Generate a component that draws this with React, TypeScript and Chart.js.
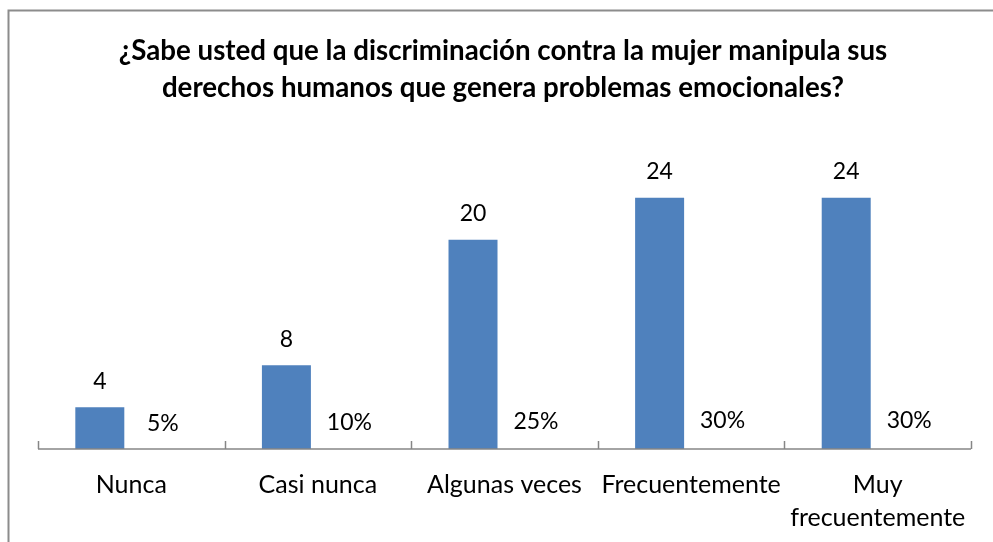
import React, { useEffect, useRef } from "react";
import { Chart, registerables } from "chart.js";

Chart.register(...registerables);

const categories: (string | string[])[] = ["Nunca", "Casi nunca", "Algunas veces", "Frecuentemente", ["Muy", "frecuentemente"]];
const counts = [4, 8, 20, 24, 24];
const percents = [0.05, 0.1, 0.25, 0.3, 0.3];
const percentLabels = ["5%", "10%", "25%", "30%", "30%"];
const titleLines = [
  "¿Sabe usted que la discriminación contra la mujer manipula sus",
  "derechos humanos que genera problemas emocionales?",
];

const FONT = "Lato, 'Open Sans', sans-serif";

const framePlugin = {
  id: "frame",
  beforeDraw(chart: any) {
    const ctx = chart.ctx;
    ctx.save();
    ctx.fillStyle = "#ffffff";
    ctx.fillRect(0, 0, chart.width, chart.height);
    ctx.strokeStyle = "#8c8c8c";
    ctx.lineWidth = 2;
    ctx.strokeRect(8.5, 10.5, chart.width + 20, chart.height + 20);
    ctx.restore();
  },
  afterDraw(chart: any) {
    const ctx = chart.ctx;
    const area = chart.chartArea;
    const xs = chart.scales.x;
    ctx.save();
    // axis line
    ctx.strokeStyle = "#868686";
    ctx.lineWidth = 1.5;
    ctx.beginPath();
    ctx.moveTo(area.left, area.bottom);
    ctx.lineTo(area.right, area.bottom);
    ctx.stroke();
    // tick marks at category boundaries
    const n = xs.ticks.length;
    const w = (area.right - area.left) / n;
    for (let i = 0; i <= n; i++) {
      const x = Math.round(area.left + i * w) + 0.5;
      ctx.beginPath();
      ctx.moveTo(x, area.bottom);
      ctx.lineTo(x, area.bottom - 8);
      ctx.stroke();
    }
    // title
    ctx.fillStyle = "#000000";
    ctx.font = `bold 27.7px ${FONT}`;
    ctx.textAlign = "center";
    ctx.textBaseline = "middle";
    ctx.fillText(titleLines[0], 503, 51);
    ctx.fillText(titleLines[1], 503, 88);
    // data labels
    ctx.font = `23px ${FONT}`;
    chart.getDatasetMeta(0).data.forEach((bar: any, i: number) => {
      ctx.fillText(String(counts[i]), bar.x, bar.y - 26);
    });
    chart.getDatasetMeta(1).data.forEach((bar: any, i: number) => {
      ctx.fillText(percentLabels[i], bar.x, bar.y - 25);
    });
    ctx.restore();
  },
};

export default function App() {
  const ref = useRef<HTMLCanvasElement>(null);
  useEffect(() => {
    const chart = new Chart(ref.current!, {
      type: "bar",
      data: {
        labels: categories,
        datasets: [
          {
            data: counts,
            backgroundColor: "#4F81BD",
            categoryPercentage: 0.675,
            barPercentage: 0.778,
          },
          {
            data: percents,
            backgroundColor: "rgba(0,0,0,0)",
            categoryPercentage: 0.675,
            barPercentage: 0.778,
          },
        ],
      },
      plugins: [framePlugin],
      options: {
        responsive: false,
        animation: false,
        devicePixelRatio: 1,
        layout: { padding: { left: 38, right: 22, top: 135, bottom: 0 } },
        plugins: { legend: { display: false }, title: { display: false }, tooltip: { enabled: false } },
        scales: {
          y: { display: false, min: 0, max: 30 },
          x: {
            grid: { display: false, drawTicks: false },
            border: { display: false },
            ticks: {
              color: "#000000",
              padding: 19,
              maxRotation: 0,
              autoSkip: false,
              font: { family: FONT, size: 25, lineHeight: 1.32 },
            },
            afterFit: (s: any) => {
              s.height = 93;
            },
          },
        },
      },
    });
    return () => chart.destroy();
  }, []);
  return (
    <div style={{ position: "absolute", left: 0, top: 0, width: 993, height: 542 }}>
      <canvas ref={ref} width={993} height={542} style={{ width: 993, height: 542, display: "block" }} />
    </div>
  );
}
